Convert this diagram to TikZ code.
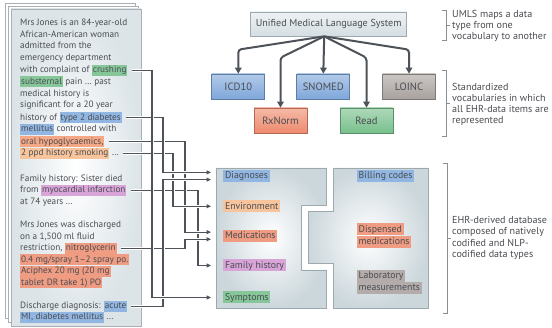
\documentclass[tikz,border=0pt]{standalone}
\usepackage{fontspec}
\setmainfont{PT Sans}
\usetikzlibrary{arrows.meta,calc,shadings}
\definecolor{txt}{HTML}{4A4D52}
\definecolor{linec}{HTML}{4D5359}
\definecolor{hgreen}{HTML}{86C79A}
\definecolor{hblue}{HTML}{92B6E2}
\definecolor{horange}{HTML}{F4A886}
\definecolor{hpeach}{HTML}{F7C49C}
\definecolor{hsalmon}{HTML}{EF9C82}
\definecolor{hpink}{HTML}{D9A5D9}
\definecolor{hgrey}{HTML}{B3ACAB}
\definecolor{dbedge}{HTML}{9EA9AF}
\definecolor{dbfill}{HTML}{CCD7DC}
\definecolor{pagefill}{HTML}{DCE4E8}
\definecolor{pageedge}{HTML}{A8B0B5}
\definecolor{vblue}{HTML}{7FA7DA}
\definecolor{vsal}{HTML}{EE8B6E}
\definecolor{vgreen}{HTML}{78C08C}
\definecolor{vgrey}{HTML}{A8A19E}
\definecolor{umlsfill}{HTML}{D5DEE3}
\definecolor{brk}{HTML}{8A8F93}
\newcommand\hlt[2]{{\setlength{\fboxsep}{0pt}\colorbox{#1}{\kern1pt\rule[-3pt]{0pt}{11pt}#2\kern1pt}}}
\newcommand\hlb[2]{{\setlength{\fboxsep}{0pt}\colorbox{#1}{\kern1.8pt\rule[-3.2pt]{0pt}{12pt}#2\kern1.8pt}}}
\tikzset{
  notetxt/.style={anchor=west, inner sep=0pt, font=\fontsize{9.2}{11}\selectfont, text=txt, text height=8pt, text depth=3pt},
  dblabel/.style={anchor=west, inner sep=0pt, align=left, font=\fontsize{9.8}{11.5}\selectfont, text=txt},
  annot/.style={anchor=west, inner sep=0pt, align=left, font=\fontsize{10.1}{11.2}\selectfont, text=txt},
  vbox/.style={minimum width=53pt, minimum height=25pt, inner sep=0pt, font=\fontsize{10.6}{11}\selectfont, text=txt, draw=#1!75!black, line width=0.7pt, top color=#1!60!white, bottom color=#1},
  conn/.style={draw=linec, line width=1.1pt, preaction={draw=white, line width=3pt}, -{Triangle[length=4.5pt,width=4pt]}},
  bigarrow/.style={draw=linec, line width=2pt, rounded corners=3pt, -{Triangle[length=6pt,width=6.5pt]}},
  bracket/.style={draw=brk, line width=0.6pt},
  dbbox/.style={draw=dbedge, line width=0.8pt, inner color=white, outer color=dbfill},
}
\begin{document}
\begin{tikzpicture}[x=1pt,y=-1pt]
\useasboundingbox (0,0) rectangle (552,328);
\fill[white] (0,0) rectangle (552,328);

% stacked pages
\path[draw=pageedge, fill=white, line width=0.6pt] (5,3) rectangle (135,318);
\path[draw=pageedge, fill=white, line width=0.6pt] (8,6) rectangle (138,322);
\path[draw=pageedge, line width=0.6pt, inner color=white, outer color=pagefill] (11,9) rectangle (141,326);

% note lines
\node[notetxt] (n1) at (20,23.3) {Mrs Jones is an 84-year-old};
\node[notetxt] (n2) at (20,34.8) {African-American woman};
\node[notetxt] (n3) at (20,46.5) {admitted from the};
\node[notetxt] (n4) at (20,58.3) {emergency department};
\node[notetxt] (n5) at (20,70.5) {with complaint of \hlt{hgreen}{crushing}};
\node[notetxt] (n6) at (20,81.9) {\hlt{hgreen}{substernal} pain … past};
\node[notetxt] (n7) at (20,93.6) {medical history is};
\node[notetxt] (n8) at (20,105.5) {significant for a 20 year};
\node[notetxt] (n9) at (20,117.7) {history of \hlt{hblue}{type 2 diabetes}};
\node[notetxt] (n10) at (20,129.3) {\hlt{hblue}{mellitus} controlled with};
\node[notetxt] (n11) at (20,141.7) {\hlt{horange}{oral hypoglycaemics,}};
\node[notetxt] (n12) at (20,153.5) {\hlt{hpeach}{2 ppd history smoking} …};
\node[notetxt] (n13) at (20,179) {Family history: Sister died};
\node[notetxt] (n14) at (20,190.3) {from \hlt{hpink}{myocardial infarction}};
\node[notetxt] (n15) at (20,201.8) {at 74 years …};
\node[notetxt] (n16) at (20,225) {Mrs Jones was discharged};
\node[notetxt] (n17) at (20,236.7) {on a 1,500 ml fluid};
\node[notetxt] (n18) at (20,248.5) {restriction, \hlt{hsalmon}{nitroglycerin}};
\node[notetxt] (n19) at (20,260) {\hlt{hsalmon}{0.4 mg/spray 1–2 spray po.}};
\node[notetxt] (n20) at (20,271.5) {\hlt{hsalmon}{Aciphex 20 mg (20 mg}};
\node[notetxt] (n21) at (20,283) {\hlt{hsalmon}{tablet DR take 1) PO}};
\node[notetxt] (n22) at (20,306.3) {Discharge diagnosis: \hlt{hblue}{acute}};
\node[notetxt] (n23) at (20,317.5) {\hlt{hblue}{MI, diabetes mellitus} …};

% UMLS and vocabularies
\node[draw=dbedge, line width=0.7pt, top color=white!60!umlsfill, bottom color=umlsfill, minimum width=156pt, minimum height=24pt, inner sep=0pt, font=\fontsize{10.1}{11}\selectfont, text=txt] (umls) at (328.7,24) {Unified Medical Language System};
\node[vbox=vblue] (icd) at (238.3,86.5) {ICD10};
\node[vbox=vblue] (snomed) at (323.3,86.5) {SNOMED};
\node[vbox=vgrey] (loinc) at (409,86.5) {LOINC};
\node[vbox=vsal] (rx) at (280.5,120.5) {RxNorm};
\node[vbox=vgreen] (read) at (366.5,120.5) {Read};
\coordinate (apex) at ($(umls.south)+(-4.5,0)$);
\draw[bigarrow] (apex) -- ($(icd.north)+(0,-24)$) -- (icd.north);
\draw[bigarrow] (apex) -- ($(rx.north)+(0,-50)$) -- (rx.north);
\draw[bigarrow] (apex) -- (snomed.north);
\draw[bigarrow] (apex) -- ($(read.north)+(0,-50)$) -- (read.north);
\draw[bigarrow] (apex) -- ($(loinc.north)+(0,-24)$) -- (loinc.north);

% database boxes
\path[dbbox] (216,168) -- (326.7,168) -- (326.7,205) -- (301.7,205) -- (301.7,270) -- (326.7,270) -- (326.7,308) -- (216,308) -- cycle;
\path[dbbox] (333.3,168) -- (428.3,168) -- (428.3,308) -- (333.3,308) -- (333.3,263.3) -- (308.3,263.3) -- (308.3,211.7) -- (333.3,211.7) -- cycle;

\node[dblabel] (diag) at (223,176) {\hlb{hblue}{Diagnoses}};
\node[dblabel] (env) at (223,206.3) {\hlb{hpeach}{Environment}};
\node[dblabel] (meds) at (223,235.7) {\hlb{hsalmon}{Medications}};
\node[dblabel] (fam) at (223,265.5) {\hlb{hpink}{Family history}};
\node[dblabel] (sym) at (223,297.5) {\hlb{hgreen}{Symptoms}};
\node[dblabel] (bill) at (356.7,176) {\hlb{hblue}{Billing codes}};
\node[dblabel] (disp) at (356.7,235.5) {\hlb{hsalmon}{Dispensed}\\[-0.6pt]\hlb{hsalmon}{medications}};
\node[dblabel] (lab) at (356.7,282) {\hlb{hgrey}{Laboratory}\\[-0.6pt]\hlb{hgrey}{measurements}};

% connector columns and targets
\coordinate (c1) at (152,0);
\coordinate (c2) at (163,0);
\coordinate (c3) at (173,0);
\coordinate (c4) at (185,0);
\coordinate (c5) at (198,0);
\coordinate (tDiagA) at ($(diag.west)+(-12,-3.6)$);
\coordinate (tDiagB) at ($(diag.west)+(-12,3.6)$);
\coordinate (tEnv) at ($(env.west)+(-12,0)$);
\coordinate (tMedA) at ($(meds.west)+(-12,-3.6)$);
\coordinate (tMedB) at ($(meds.west)+(-12,3.6)$);
\coordinate (tFam) at ($(fam.west)+(-12,0)$);
\coordinate (tSym) at ($(sym.west)+(-12,0)$);

\draw[conn] ($(n14.east)+(4,0)$) -| (c5 |- tFam) -- (tFam);
\draw[conn] ($(n18.east)+(4,0)$) -| (c4 |- tMedB) -- (tMedB);
\draw[conn] ($(n11.east)+(4,0)$) -| (c4 |- tMedA) -- (tMedA);
\draw[conn] ($(n12.east)+(4,0)$) -| (c3 |- tEnv) -- (tEnv);
\draw[conn] ($(n9.east)+(4,0)$) -| (c2 |- tDiagA) -- (tDiagA);
\draw[conn] ($(n22.east)+(4,0)$) -| (c2 |- tDiagB) -- (tDiagB);
\draw[conn] ($(n5.east)+(4,0)$) -| (c1 |- tSym) -- (tSym);

% brackets and annotations
\draw[bracket] (442,10) -- (446,10) -- (446,40) -- (442,40);
\draw[bracket] (446,25) -- (450,25);
\node[annot] (a1) at (452,26) {UMLS maps a data\\type from one\\vocabulary to another};
\draw[bracket] (442,70) -- (446,70) -- (446,136.7) -- (442,136.7);
\draw[bracket] (446,103.3) -- (450,103.3);
\node[annot] (a2) at (452,104.3) {Standardized\\vocabularies in which\\all EHR-data items are\\represented};
\draw[bracket] (443,163) -- (447,163) -- (447,313) -- (443,313);
\draw[bracket] (447,238) -- (451,238);
\node[annot] (a3) at (452,238) {EHR-derived database\\composed of natively\\codified and NLP-\\codified data types};
\end{tikzpicture}
\end{document}
